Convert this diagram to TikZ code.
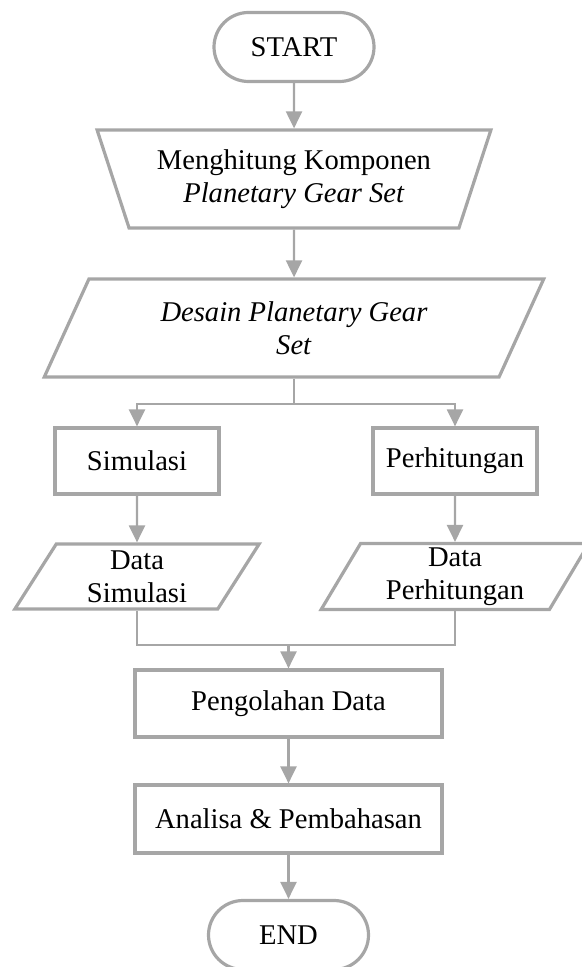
\documentclass[tikz,border=0pt]{standalone}
\usepackage{fontspec}
\setmainfont{Liberation Serif}
\usetikzlibrary{shapes.geometric,shapes.misc,arrows.meta}
\definecolor{flowgray}{RGB}{166,166,166}

\begin{document}
\begin{tikzpicture}[x=0.5pt,y=-0.5pt,
  every node/.style={font=\fontsize{14.3}{16.5}\selectfont, text=black, align=center, inner sep=2pt},
  outline/.style={draw=flowgray, line width=1.6pt, fill=white},
  box/.style={outline, rectangle},
  terminal/.style={outline, rounded rectangle, minimum width=84pt, minimum height=34.5pt},
  slanted/.style={outline, trapezium, trapezium stretches=true},
  flowline/.style={draw=flowgray, line width=1.1pt},
  flowarrow/.style={flowline, -{Triangle[width=8pt,length=8.5pt]}}]

\useasboundingbox (0,0) rectangle (582,967);

% process blocks
\node[terminal] (start) at (294,47) {START};
\node[slanted, trapezium left angle=112.2, trapezium right angle=112.2,
      minimum width=197pt, minimum height=49pt] (count) at (294,179)
      {Menghitung Komponen\\\textit{Planetary Gear Set}};
\node[slanted, trapezium left angle=63.9, trapezium right angle=116.1,
      minimum width=250pt, minimum height=49pt] (design) at (294,328)
      {\textit{Desain Planetary Gear}\\\textit{Set}};
\node[box, minimum width=82pt, minimum height=33pt] (sim) at (137,461) {Simulasi};
\node[box, minimum width=82pt, minimum height=33pt] (calc) at (455,461) {Perhitungan};
\node[slanted, trapezium left angle=65.2, trapezium right angle=114.8,
      minimum width=122.5pt, minimum height=32.5pt] (dsim) at (137,576.5) {Data\\Simulasi};
\node[slanted, trapezium left angle=65.2, trapezium right angle=114.8,
      minimum width=134pt, minimum height=32.5pt] (dcalc) at (455,576.5) {Data\\Perhitungan};
\node[box, minimum width=153.5pt, minimum height=33.5pt] (proc) at (288.5,703.5) {Pengolahan Data};
\node[box, minimum width=153.5pt, minimum height=34pt] (anal) at (288.5,819) {Analisa \& Pembahasan};
\node[terminal] (end) at (288.5,935) {END};

% connectors
\draw[flowarrow] (start.south) -- (count.north);
\draw[flowarrow] (count.south) -- (design.north);

\coordinate (split) at (design.south |- 0,404);
\draw[flowline] (design.south) -- (split);
\draw[flowarrow] (split) -| (sim.north);
\draw[flowarrow] (split) -| (calc.north);

\draw[flowarrow] (sim.south) -- (dsim.north);
\draw[flowarrow] (calc.south) -- (dcalc.north);

\coordinate (join) at (proc.north |- 0,645);
\draw[flowline] (dsim.south) |- (join);
\draw[flowline] (dcalc.south) |- (join);
\draw[flowarrow] (join) -- (proc.north);

\draw[flowarrow] (proc.south) -- (anal.north);
\draw[flowarrow] (anal.south) -- (end.north);
\end{tikzpicture}
\end{document}
